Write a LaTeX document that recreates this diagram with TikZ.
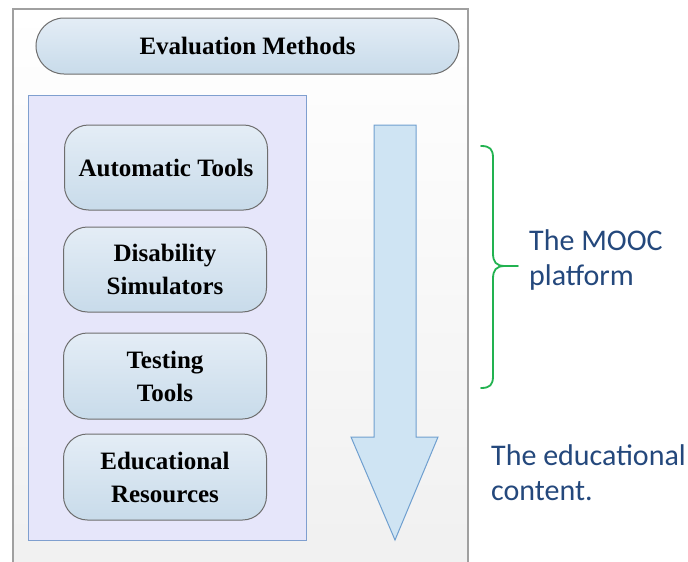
\documentclass[tikz,border=0pt]{standalone}
\usepackage{fontspec}
\setmainfont{Liberation Serif}
\newfontfamily\labelfont{Carlito}
\definecolor{outerfill}{HTML}{F0F0F0}
\definecolor{outerline}{HTML}{A0A0A0}
\definecolor{panelfill}{HTML}{E6E6FA}
\definecolor{panelline}{HTML}{7F9FCF}
\definecolor{boxtop}{HTML}{E4EDF6}
\definecolor{boxbot}{HTML}{C8DBEA}
\definecolor{boxline}{HTML}{6E6E6E}
\definecolor{arrowfill}{HTML}{CFE4F3}
\definecolor{arrowline}{HTML}{6F9FCF}
\definecolor{bracegreen}{RGB}{34,178,80}
\definecolor{labelblue}{HTML}{24487C}
\tikzset{
  methodbox/.style={draw=boxline, line width=1pt, rounded corners=24pt,
    top color=boxtop, bottom color=boxbot, align=center,
    font=\fontsize{25}{33}\selectfont\bfseries, text=black},
  sidelabel/.style={anchor=north west, align=left, text=labelblue,
    font=\labelfont\fontsize{30}{35}\selectfont, inner sep=0pt},
}
\begin{document}
\begin{tikzpicture}[x=1pt,y=-1pt]
\useasboundingbox (0,0) rectangle (688,562);
\begin{scope}
\clip (0,0) rectangle (688,562);
\draw[outerline, line width=1.5pt, top color=white, bottom color=outerfill]
  (13,9) rectangle (468,580);
\end{scope}
% header pill
\node[methodbox, rounded corners=28pt, minimum width=423pt, minimum height=56pt,
  font=\fontsize{25}{30}\selectfont\bfseries] (head) at (247.5,46) {Evaluation Methods};
% panel
\node[draw=panelline, fill=panelfill, line width=1pt, minimum width=278pt,
  minimum height=445pt, inner sep=0pt] (panel) at (167,317.5) {};
% method boxes
\node[methodbox, minimum width=203pt, minimum height=85pt] (auto) at (166,167.5) {Automatic Tools};
\node[methodbox, minimum width=203pt, minimum height=85pt] (dis) at (165,269.5) {Disability\\Simulators};
\node[methodbox, minimum width=203pt, minimum height=86pt] (test) at (165,376) {Testing\\Tools};
\node[methodbox, minimum width=203pt, minimum height=86pt] (edu) at (165,477) {Educational\\Resources};
% down arrow
\draw[arrowline, fill=arrowfill, line width=1pt, line join=miter]
  (374,125) -- (416,125) -- (416,437) -- (438,437) -- (395,540) -- (351,437) -- (374,437) -- cycle;
% brace
\coordinate (btop) at (481,146);
\coordinate (btip) at (518,266);
\coordinate (bbot) at (481,388);
\draw[bracegreen, line width=1.8pt, line cap=round]
  (btop) .. controls (490,146) and (493,149) .. (493,158) -- (493,253)
  .. controls (493,262) and (496,266) .. (505,266) -- (btip);
\draw[bracegreen, line width=1.8pt, line cap=round]
  (505,266) .. controls (496,266) and (493,270) .. (493,279) -- (493,376)
  .. controls (493,385) and (490,388) .. (bbot);
% labels
\node[sidelabel] (mooc) at (529,229) {The MOOC\\platform};
\node[sidelabel] (content) at (491,444) {The educational\\content.};
\end{tikzpicture}
\end{document}
